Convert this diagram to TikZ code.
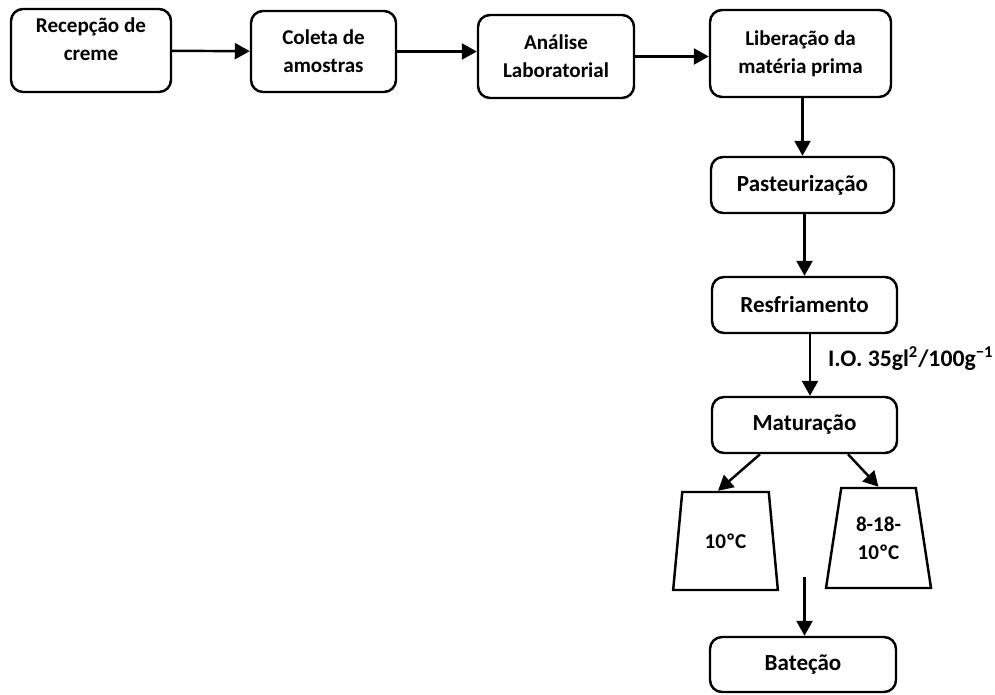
\documentclass[tikz,border=0pt]{standalone}
\usepackage{fontspec}
\setmainfont{Carlito}
\usetikzlibrary{arrows.meta,shapes.geometric,positioning}

\begin{document}
\begin{tikzpicture}[
    steptext/.style={font=\fontsize{12}{16}\selectfont\bfseries,align=center},
    bigtext/.style={font=\fontsize{13.1}{16}\selectfont\bfseries,align=center},
    stepbox/.style={draw,line width=1.4pt,rounded corners=0.24cm,steptext},
    tempbox/.style={draw,line width=1.4pt,shape=trapezium,trapezium angle=78,
      trapezium stretches=true,minimum width=2.1cm,minimum height=1.96cm,steptext},
    flow/.style={line width=1.4pt,-{Triangle[length=0.3cm,width=0.32cm]}}]
    \useasboundingbox (0,0) rectangle (19.9,13.88);
    % top row
    \node[stepbox,minimum width=3.2cm,minimum height=1.66cm,
      label={[steptext,yshift=0.22cm]center:Recepção de\\creme}] (rec) at (1.82,12.87) {};
    \node[stepbox,minimum width=2.9cm,minimum height=1.62cm] (col) at (6.47,12.85) {Coleta de\\amostras};
    \node[stepbox,minimum width=3.12cm,minimum height=1.66cm] (ana) at (11.12,12.75) {Análise\\Laboratorial};
    \node[stepbox,minimum width=3.62cm,minimum height=1.74cm] (lib) at (16.01,12.81) {Liberação da\\matéria prima};
    % column
    \node[stepbox,bigtext,minimum width=3.66cm,minimum height=1.12cm] (pas) at (16.05,10.18) {Pasteurização};
    \node[stepbox,bigtext,minimum width=3.7cm,minimum height=1.12cm] (res) at (16.09,7.78) {Resfriamento};
    \node[stepbox,bigtext,minimum width=3.7cm,minimum height=1.12cm] (mat) at (16.09,5.38) {Maturação};
    \node[tempbox] (t1) at (14.51,3.06) {10ºC};
    \node[tempbox,minimum height=2cm] (t2) at (17.57,3.12) {8-18-\\10ºC};
    \coordinate (merge) at (16.09,2.34);
    \node[stepbox,bigtext,minimum width=3.72cm,minimum height=1.1cm] (bat) at (16.06,0.59) {Bateção};
    % arrows
    \draw[flow] (rec) -- (col);
    \draw[flow] (col.east) -- (col.east -| ana.west);
    \draw[flow] (ana.east) -- (ana.east -| lib.west);
    \draw[flow] (pas.north |- lib.south) -- (pas.north);
    \draw[flow] (res.north |- pas.south) -- (res.north);
    \draw[flow] ([xshift=0.11cm]res.south) -- ([xshift=0.11cm]mat.north)
      node[pos=0.4,right=0.22cm,bigtext,font=\fontsize{13.5}{16}\selectfont\bfseries] (io)
      {I.O. 35gl\textsuperscript{2}/100g\textsuperscript{−1}};
    \draw[flow] ([xshift=-0.89cm]mat.south) -- ([xshift=-0.15cm]t1.north);
    \draw[flow] ([xshift=0.87cm]mat.south) -- (t2.north);
    \draw[flow] (merge) -- (merge |- bat.north);
\end{tikzpicture}
\end{document}
